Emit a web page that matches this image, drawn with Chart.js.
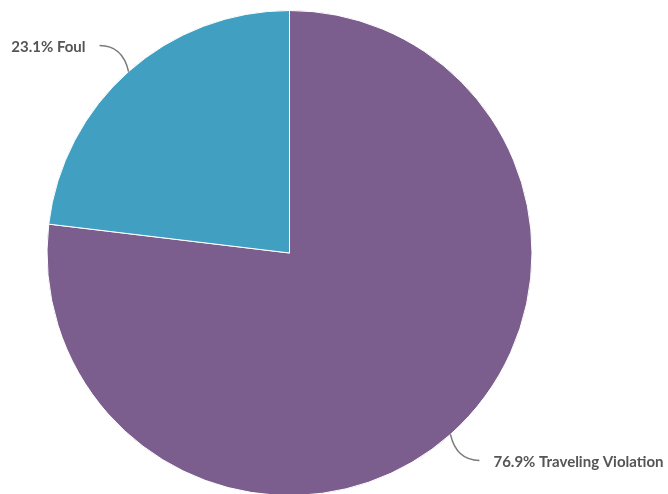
<!DOCTYPE html>
<html>
<head>
<meta charset="utf-8">
<script src="https://cdn.jsdelivr.net/npm/chart.js@4"></script>
<style>
    html, body { margin: 0; padding: 0; background: #fff; }
    #wrap { width: 668px; height: 494px; position: relative; }
</style>
</head>
<body>
<div id="wrap"><canvas id="pieChart"></canvas></div>
<script>
'use strict';

// data
const categories = ['Traveling Violation', 'Foul'];
const shares = [76.9, 23.1];
const sliceColors = ['#7b5e8d', '#41a0c1'];

// labels with curved leader lines, drawn outside the slices
const leaderLabels = {
    id: 'leaderLabels',
    afterDatasetsDraw(chart) {
        const ctx = chart.ctx;
        const meta = chart.getDatasetMeta(0);
        ctx.save();
        ctx.font = 'bold 15px Lato';
        ctx.textBaseline = 'middle';
        meta.data.forEach((arc, i) => {
            const p = arc.getProps(['x', 'y', 'startAngle', 'endAngle', 'outerRadius'], true);
            const mid = (p.startAngle + p.endAngle) / 2;
            const ex = p.x + Math.cos(mid) * p.outerRadius;
            const ey = p.y + Math.sin(mid) * p.outerRadius;
            const sx = Math.cos(mid) >= 0 ? 1 : -1;
            const sy = Math.sin(mid) >= 0 ? 1 : -1;
            const endX = ex + sx * 29;
            const endY = ey + sy * 26;

            ctx.strokeStyle = '#7a7a7a';
            ctx.lineWidth = 1.5;
            ctx.beginPath();
            ctx.moveTo(ex, ey);
            ctx.quadraticCurveTo(ex + sx * 6, endY, endX, endY);
            ctx.stroke();

            ctx.fillStyle = '#555555';
            ctx.textAlign = sx > 0 ? 'left' : 'right';
            ctx.fillText(shares[i].toFixed(1) + '% ' + categories[i], endX + sx * 14, endY + 2);
        });
        ctx.restore();
    }
};

const ctx = document.getElementById('pieChart').getContext('2d');
new Chart(ctx, {
    type: 'pie',
    data: {
        labels: categories,
        datasets: [{
            data: shares,
            backgroundColor: sliceColors,
            borderColor: '#ffffff',
            borderWidth: 1,
            radius: 242.5
        }]
    },
    options: {
        responsive: true,
        maintainAspectRatio: false,
        animation: false,
        layout: { padding: { left: 47, right: 136, top: 12, bottom: 0 } },
        plugins: {
            legend: { display: false },
            tooltip: { enabled: false }
        }
    },
    plugins: [leaderLabels]
});
</script>
</body>
</html>
